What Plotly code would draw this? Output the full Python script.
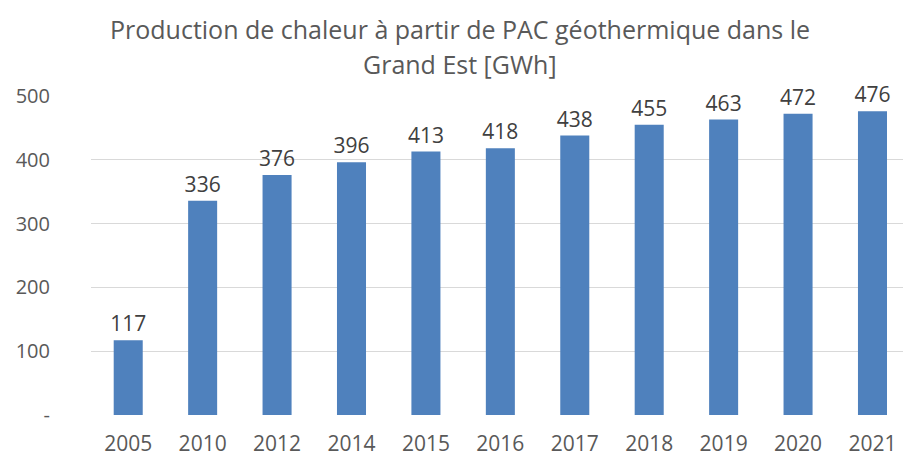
import plotly.graph_objects as go

# Annual heat production from geothermal heat pumps, Grand Est region (GWh)
years = ["2005", "2010", "2012", "2014", "2015", "2016", "2017", "2018", "2019", "2020", "2021"]
production_gwh = [117, 336, 376, 396, 413, 418, 438, 455, 463, 472, 476]

y_tick_values = [0, 100, 200, 300, 400, 500]
y_tick_labels = ["-", "100", "200", "300", "400", "500"]

title_lines = ["Production de chaleur à partir de PAC géothermique dans le", "Grand Est [GWh]"]

FONT = "Open Sans"
BAR_COLOR = "#4F81BD"
TEXT_GRAY = "#595959"
LABEL_DARK = "#404040"

PLOT_LEFT, PLOT_RIGHT = 91, 903
PLOT_TOP, PLOT_BOTTOM = 96, 415
WIDTH, HEIGHT = 903, 457


def paper_y(px):
    """Convert a pixel row into paper coordinates of the plot area."""
    return (PLOT_BOTTOM - px) / (PLOT_BOTTOM - PLOT_TOP)


def paper_x(px):
    """Convert a pixel column into paper coordinates of the plot area."""
    return (px - PLOT_LEFT) / (PLOT_RIGHT - PLOT_LEFT)


fig = go.Figure(
    go.Bar(
        x=list(range(len(years))),
        y=production_gwh,
        marker=dict(color=BAR_COLOR, line=dict(width=0)),
        text=[str(v) for v in production_gwh],
        textposition="outside",
        constraintext="none",
        textfont=dict(family=FONT, size=21, color=LABEL_DARK),
        cliponaxis=False,
    )
)

# Two-line chart title, each line placed on its own row
for line, row in zip(title_lines, [29, 64]):
    fig.add_annotation(
        text=line,
        xref="paper",
        yref="paper",
        x=paper_x(460),
        y=paper_y(row),
        xanchor="center",
        yanchor="middle",
        showarrow=False,
        font=dict(family=FONT, size=25, color=TEXT_GRAY),
    )

fig.update_layout(
    width=WIDTH,
    height=HEIGHT,
    margin=dict(l=PLOT_LEFT, r=WIDTH - PLOT_RIGHT, t=PLOT_TOP, b=HEIGHT - PLOT_BOTTOM, autoexpand=False),
    paper_bgcolor="white",
    plot_bgcolor="white",
    showlegend=False,
    bargap=0.61,
    xaxis=dict(
        range=[-0.5, 10.41],
        tickmode="array",
        tickvals=list(range(len(years))),
        ticktext=years,
        showgrid=False,
        zeroline=False,
        showline=False,
        ticks="",
        automargin=False,
        tickfont=dict(family=FONT, size=21, color=TEXT_GRAY),
        ticklabelstandoff=14,
    ),
    yaxis=dict(
        range=[0, 500],
        tickmode="array",
        tickvals=y_tick_values,
        ticktext=y_tick_labels,
        showgrid=True,
        gridcolor="#D9D9D9",
        gridwidth=1,
        zeroline=False,
        showline=False,
        ticks="",
        automargin=False,
        tickfont=dict(family=FONT, size=20, color=TEXT_GRAY),
        ticklabelstandoff=40,
    ),
)

fig.write_html("out.html")
